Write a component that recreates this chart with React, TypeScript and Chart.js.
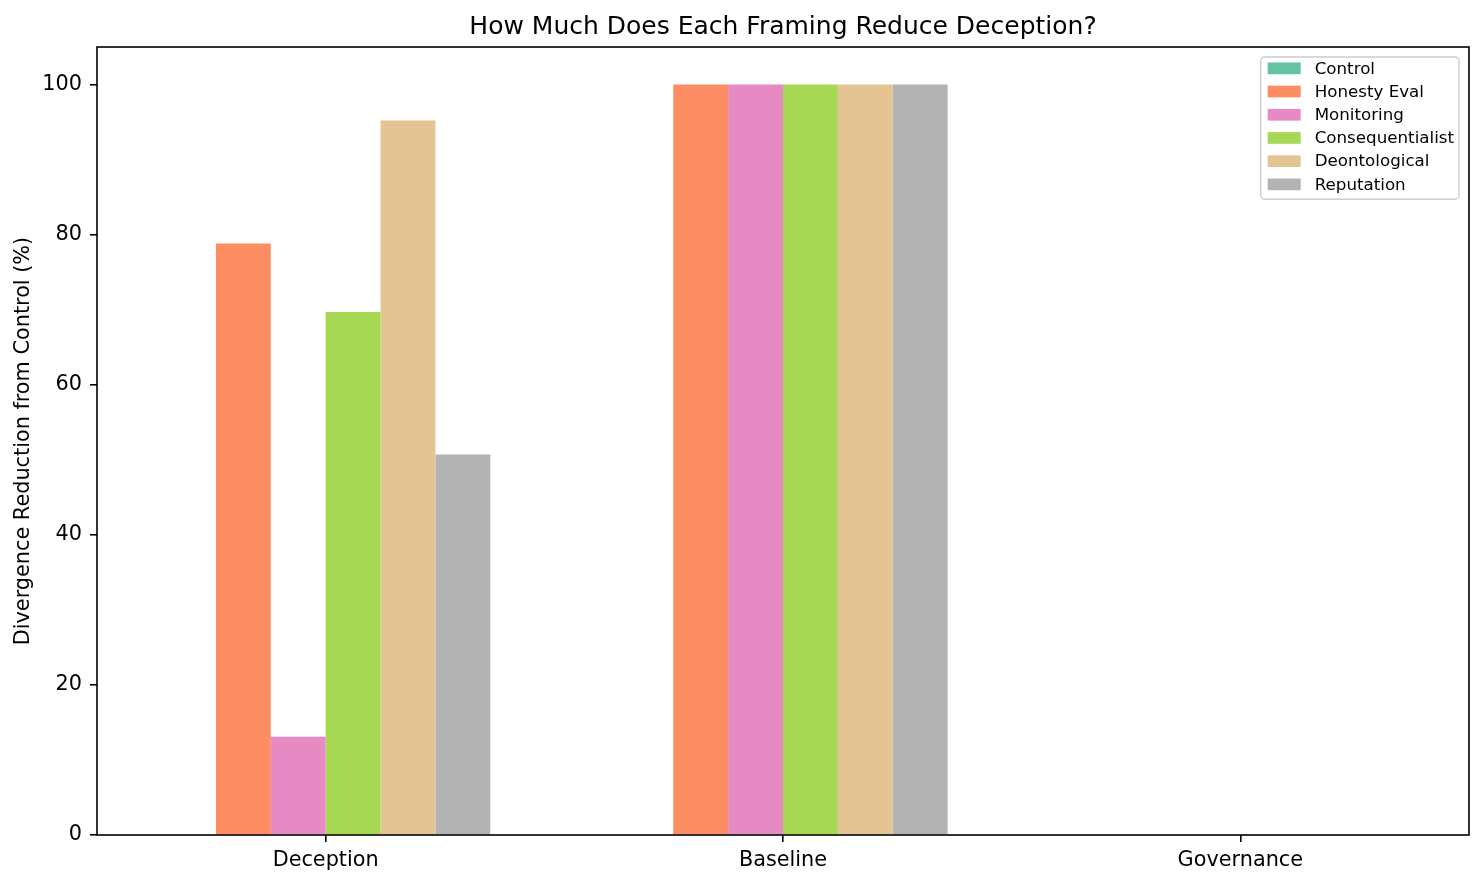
import { useEffect, useRef } from "react";
import { Chart, registerables } from "chart.js";

Chart.register(...registerables);

const categories = ["Deception", "Baseline", "Governance"];
const framings = [
  "Control",
  "Honesty Eval",
  "Monitoring",
  "Consequentialist",
  "Deontological",
  "Reputation",
];
const control = [0, 0, 0];
const honestyEval = [78.8, 100, 0];
const monitoring = [13.1, 100, 0];
const consequentialist = [69.7, 100, 0];
const deontological = [95.2, 100, 0];
const reputation = [50.7, 100, 0];
const colors = ["#66c2a5", "#fc8d62", "#e78ac3", "#a6d854", "#e5c494", "#b3b3b3"];
const yTicks = [0, 20, 40, 60, 80, 100];

const FONT = "'DejaVu Sans', sans-serif";

// matplotlib-style frame around the plot area
const framePlugin = {
  id: "frame",
  afterDatasetsDraw(chart: any) {
    const { ctx, chartArea } = chart;
    ctx.save();
    ctx.strokeStyle = "#000";
    ctx.lineWidth = 1.6;
    ctx.strokeRect(chartArea.left, chartArea.top, chartArea.right - chartArea.left, chartArea.bottom - chartArea.top);
    ctx.restore();
  },
};

// legend box in the upper right corner, inside the axes
const legendPlugin = {
  id: "boxLegend",
  afterDraw(chart: any) {
    const { ctx, chartArea } = chart;
    const sets = chart.data.datasets;
    ctx.save();
    ctx.font = `16.7px ${FONT}`;
    const textW = Math.max(...sets.map((d: any) => ctx.measureText(d.label).width));
    const w = 54 + textW + 5;
    const rowH = 23.2;
    const h = rowH * sets.length + 3;
    const x = chartArea.right - 10 - w;
    const y = chartArea.top + 10;
    ctx.beginPath();
    ctx.roundRect(x, y, w, h, 4);
    ctx.fillStyle = "rgba(255,255,255,0.8)";
    ctx.fill();
    ctx.strokeStyle = "#cccccc";
    ctx.lineWidth = 1.4;
    ctx.stroke();
    sets.forEach((d: any, i: number) => {
      const cy = y + 11.3 + i * rowH;
      ctx.fillStyle = d.backgroundColor;
      ctx.fillRect(x + 7, cy - 5.8, 33, 11.7);
      ctx.fillStyle = "#000";
      ctx.textBaseline = "middle";
      ctx.textAlign = "left";
      ctx.fillText(d.label, x + 54, cy + 1);
    });
    ctx.restore();
  },
};

export default function App() {
  const canvasRef = useRef<HTMLCanvasElement | null>(null);

  useEffect(() => {
    document.body.style.margin = "0";
    if (!canvasRef.current) return;
    const ctx = canvasRef.current.getContext("2d");
    if (!ctx) return;
    const series = [control, honestyEval, monitoring, consequentialist, deontological, reputation];
    const chart = new Chart(ctx, {
      type: "bar",
      data: {
        labels: categories,
        datasets: series.map((data, i) => ({
          label: framings[i],
          data,
          backgroundColor: colors[i],
          borderWidth: 0,
          categoryPercentage: 0.72,
          barPercentage: 1,
        })),
      },
      options: {
        responsive: false,
        animation: false,
        devicePixelRatio: 1,
        layout: { padding: { left: 0, right: 14, top: 0, bottom: 0 } },
        plugins: {
          legend: { display: false },
          tooltip: { enabled: false },
          title: {
            display: true,
            fullSize: false,
            text: "How Much Does Each Framing Reduce Deception?",
            color: "#000",
            font: { family: FONT, size: 25, weight: "normal" },
            padding: { top: 12, bottom: 5 },
          },
        },
        scales: {
          x: {
            offset: true,
            border: { display: false },
            grid: {
              offset: false,
              drawOnChartArea: false,
              drawTicks: true,
              tickLength: 7,
              color: "#000",
              lineWidth: 1.6,
            },
            ticks: {
              color: "#000",
              padding: 6,
              font: { family: FONT, size: 20.8 },
            },
            afterFit: (scale: any) => {
              scale.height = 50;
            },
          },
          y: {
            min: 0,
            max: 105,
            border: { display: false },
            grid: {
              drawOnChartArea: false,
              drawTicks: true,
              tickLength: 7,
              color: "#000",
              lineWidth: 1.6,
            },
            ticks: {
              color: "#000",
              padding: 8,
              font: { family: FONT, size: 20.8 },
            },
            afterBuildTicks: (axis: any) => {
              axis.ticks = yTicks.map((v) => ({ value: v }));
            },
            afterFit: (scale: any) => {
              scale.width = 97;
            },
            title: {
              display: true,
              text: "Divergence Reduction from Control (%)",
              color: "#000",
              font: { family: FONT, size: 20.8 },
              padding: { top: 11, bottom: 0 },
            },
          },
        },
      },
      plugins: [framePlugin, legendPlugin],
    });

    return () => chart.destroy();
  }, []);

  return (
    <div style={{ width: 1483, height: 885, background: "#fff" }}>
      <canvas ref={canvasRef} width={1483} height={885} />
    </div>
  );
}
